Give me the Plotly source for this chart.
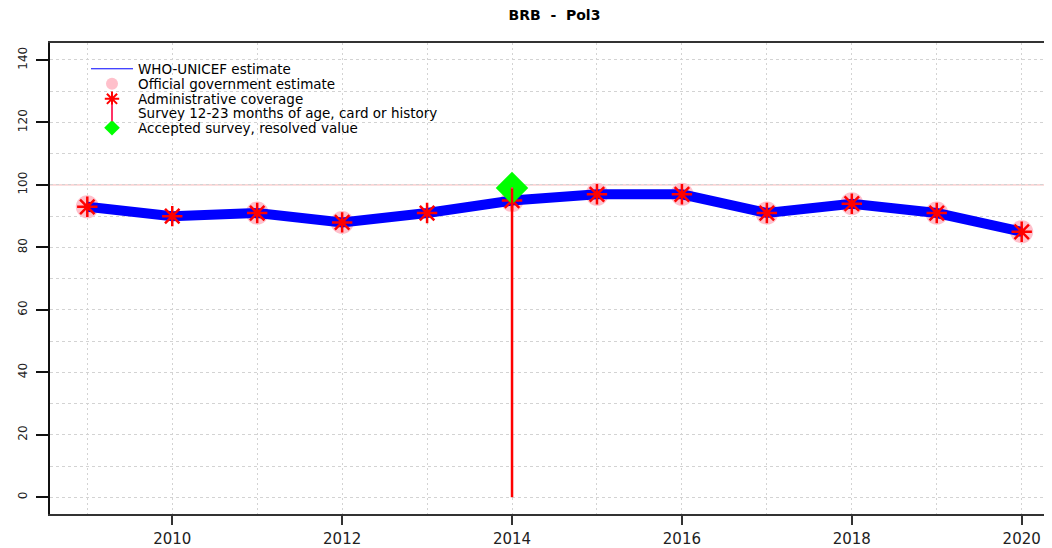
import plotly.graph_objects as go

# ---- data ----
years = [2009, 2010, 2011, 2012, 2013, 2014, 2015, 2016, 2017, 2018, 2019, 2020]
wuenic = [93, 90, 91, 88, 91, 95, 97, 97, 91, 94, 91, 85]
official = [93, None, 91, 88, None, 95, 97, 97, 91, 94, 91, 85]
admin = [93, 90, 91, 88, 91, 95, 97, 97, 91, 94, 91, 85]
survey_years = [2014]
survey_values = [99]
accepted_years = [2014]
accepted_values = [99]
x_ticks = [2010, 2012, 2014, 2016, 2018, 2020]
y_ticks = [0, 20, 40, 60, 80, 100, 120, 140]
reference_level = 100
title_text = "BRB\u00a0\u00a0-\u00a0\u00a0Pol3"

FONT = "DejaVu Sans"
OFF = 8  # default page body margin shifts the figure by 8px
W, H = 1044, 540
# desired plot box in page pixels: left 50, top 43, bottom 514
ML, MT = 50 - OFF, 43 - OFF
MB = H - (514 - OFF)
MR = 1
plot_w = W - ML - MR
plot_h = H - MT - MB
x_per_px = 1 / 84.945
x0 = 2009 - (87.3 - 50) * x_per_px
x1 = x0 + plot_w * x_per_px

fig = go.Figure()

# official government estimate (pink circles)
fig.add_trace(go.Scatter(
    x=years, y=official, mode="markers", name="Official government estimate",
    marker=dict(symbol="circle", size=23, color="#FFC0CB", line=dict(width=0)),
    legend="legend2", cliponaxis=False))

# WUENIC thick line (no legend) + thin line on top carrying the legend
fig.add_trace(go.Scatter(
    x=years, y=wuenic, mode="lines", showlegend=False,
    line=dict(color="#0000FF", width=10), hoverinfo="skip"))
fig.add_trace(go.Scatter(
    x=years, y=wuenic, mode="lines", name="WHO-UNICEF estimate",
    line=dict(color="#0000FF", width=1), legend="legend"))

# administrative coverage (red asterisks)
fig.add_trace(go.Scatter(
    x=years, y=admin, mode="markers", name="Administrative coverage",
    marker=dict(symbol="asterisk-open", size=17, color="#FF0000",
                line=dict(color="#FF0000", width=2.5)),
    legend="legend3"))

# accepted survey (green diamond)
fig.add_trace(go.Scatter(
    x=accepted_years, y=accepted_values, mode="markers",
    name="Accepted survey, resolved value",
    marker=dict(symbol="diamond", size=25, color="#00FF00", line=dict(width=0)),
    legend="legend5"))

# survey: vertical line from 0 up to the survey value (no legend entry)
fig.add_trace(go.Scatter(
    x=survey_years, y=survey_values, mode="markers", showlegend=False,
    marker=dict(size=0.1, color="rgba(0,0,0,0)"), hoverinfo="skip",
    error_y=dict(type="data", symmetric=False, array=[0 for _ in survey_values],
                 arrayminus=survey_values, color="#FF0000", thickness=2.5, width=0)))
# survey legend carrier: tiny vertical tick at the survey value
fig.add_trace(go.Scatter(
    x=survey_years, y=survey_values, mode="markers",
    name="Survey 12-23 months of age, card or history",
    marker=dict(symbol="line-ns-open", size=1, color="#FF3366",
                line=dict(color="#FF3366", width=2)),
    legend="legend4"))

# reference line at 100
fig.add_hline(y=reference_level, line=dict(color="#F7B7B7", width=1), layer="below")

# legends positioned individually to mimic the compact R legend
legend_rows_px = [69, 84, 99, 113, 128]
legend_x_px = 86
legend_common = dict(
    xanchor="left", yanchor="middle", bgcolor="rgba(0,0,0,0)", borderwidth=0,
    font=dict(family=FONT, size=13.5, color="#000000"),
    itemwidth=42, tracegroupgap=0)
names = ["legend", "legend2", "legend3", "legend4", "legend5"]
legend_layout = {}
for i, (nm, py) in enumerate(zip(names, legend_rows_px)):
    legend_layout[nm] = dict(legend_common,
                             itemsizing=("trace" if i == 0 else "constant"),
                             x=(legend_x_px - OFF - ML) / plot_w,
                             y=(H - MB - (py - OFF)) / plot_h)

grid_col = "#D3D3D3"
fig.update_layout(
    width=W, height=H,
    margin=dict(l=ML, r=MR, t=MT, b=MB, pad=0),
    paper_bgcolor="white", plot_bgcolor="white",
    showlegend=True,
    title=dict(text="<b>" + title_text + "</b>", x=(554.5 - OFF - ML) / plot_w, xref="paper",
               xanchor="center", y=1 - (15.5 - OFF) / H, yanchor="middle",
               font=dict(family=FONT, size=14, color="#000000")),
    xaxis=dict(
        range=[x0, x1], tickvals=x_ticks, ticktext=[str(v) for v in x_ticks],
        showgrid=True, gridcolor=grid_col, griddash="2px,3px", gridwidth=1,
        minor=dict(dtick=1, tick0=2009, showgrid=True, gridcolor=grid_col,
                   griddash="2px,3px", gridwidth=1, ticks=""),
        zeroline=False, showline=True, linecolor="#333333", linewidth=1.5, mirror=True,
        ticks="outside", ticklen=9, tickwidth=1.5, tickcolor="#333333",
        ticklabelstandoff=1,
        tickfont=dict(family=FONT, size=15, color="#222222")),
    yaxis=dict(
        range=[-5.346, 145.44], tickvals=y_ticks, ticktext=[str(v) for v in y_ticks],
        showgrid=True, gridcolor=grid_col, griddash="3px,3px", gridwidth=1,
        minor=dict(dtick=10, tick0=0, showgrid=True, gridcolor=grid_col,
                   griddash="3px,3px", gridwidth=1, ticks=""),
        zeroline=False, showline=True, linecolor="#111111", linewidth=1.5,
        ticks="outside", ticklen=12, tickwidth=1.5, tickcolor="#111111",
        tickangle=-90, ticklabelstandoff=4,
        tickfont=dict(family=FONT, size=12, color="#222222")),
    **legend_layout,
)

fig.write_html("out.html")
